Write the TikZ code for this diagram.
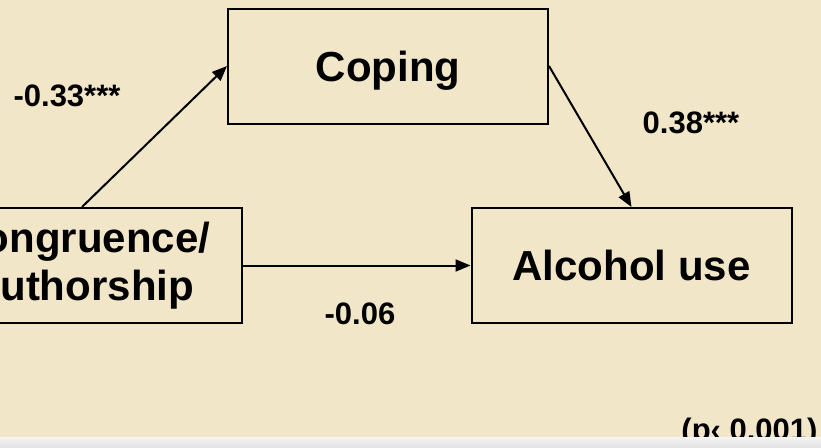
\documentclass[tikz,border=0pt]{standalone}
\usepackage{fontspec}
\setmainfont{Liberation Sans}
\usetikzlibrary{arrows.meta}
\definecolor{bgbeige}{HTML}{F2E6C9}
\begin{document}
\begin{tikzpicture}[x=1pt,y=-1pt,
  box/.style={draw,line width=2pt,minimum width=320pt,minimum height=115pt,
    align=center,font=\fontsize{42}{48}\selectfont\bfseries},
  lbl/.style={anchor=base,inner sep=0pt,font=\fontsize{31}{36}\selectfont\bfseries},
  arr/.style={line width=2pt,-{Triangle[length=15pt,width=12pt]}}]
\clip (0,0) rectangle (821,447);
\fill[bgbeige] (0,0) rectangle (821,447);
\node[box,text depth=0pt] (coping) at (388,66) {Coping};
\node[box] (alcohol) at (631.5,265.5) {Alcohol use};
\node[box] (congr) at (82,265.5) {Congruence/\\Authorship};
\draw[arr] (congr.north) -- (coping.west);
\draw[arr] (coping.east) -- (alcohol.north);
\draw[arr] (congr.east) -- (alcohol.west);
\node[lbl] (pa) at (67,106) {-0.33***};
\node[lbl] (pb) at (691,133) {0.38***};
\node[lbl] (pc) at (360,324) {-0.06};
\node[lbl] (note) at (749.5,440) {(p‹ 0.001)};
% grey strip at the bottom
\shade[top color=gray!8,bottom color=gray!22] (0,437) rectangle (821,447);
\end{tikzpicture}
\end{document}
